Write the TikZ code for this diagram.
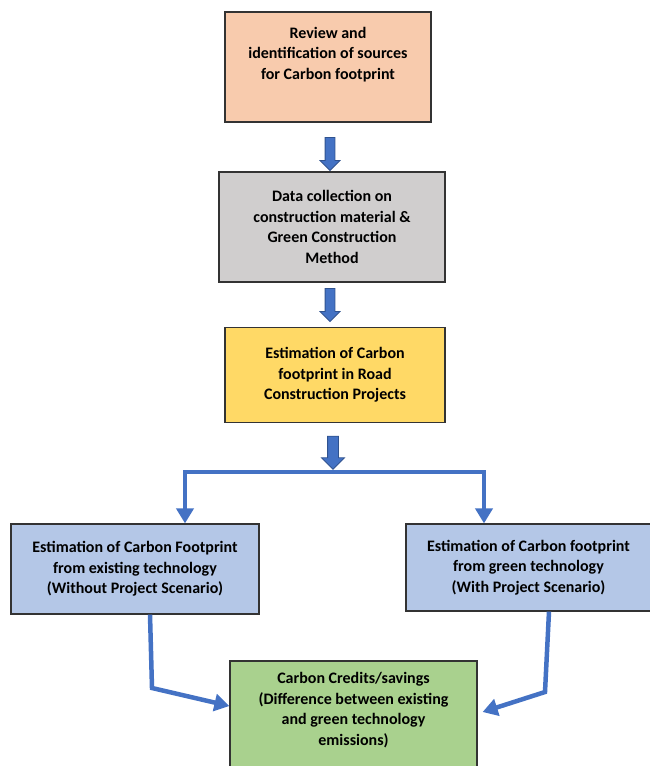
\documentclass[tikz,border=0pt]{standalone}
\usepackage{fontspec}
\setmainfont{Carlito}
\usetikzlibrary{arrows.meta,calc,positioning,shapes.arrows}
\definecolor{reviewpeach}{RGB}{248,203,173}
\definecolor{datagray}{RGB}{208,206,206}
\definecolor{estimyellow}{RGB}{255,217,102}
\definecolor{scenblue}{RGB}{180,199,231}
\definecolor{creditgreen}{RGB}{169,209,142}
\definecolor{flowblue}{RGB}{68,114,196}
\definecolor{flowedge}{RGB}{47,82,143}

\begin{document}
\begin{tikzpicture}[
    x=1pt, y=-1pt,
    stage/.style={draw=black!80, line width=1.2pt, align=center, inner sep=0pt, font=\fontsize{16}{20.5}\selectfont\bfseries},
    blockarrow/.style={single arrow, rotate=-90, fill=flowblue, draw=flowedge, line width=0.8pt, inner sep=4.5pt, single arrow head extend=5pt, minimum width=0pt, minimum height=33pt},
    branch/.style={draw=flowblue, line width=4.5pt, line join=miter},
    tip/.style={-{Triangle[width=17pt,length=15pt]}}
]
\useasboundingbox (0,0) rectangle (649,766);

% Stages down the middle
\node[stage, fill=reviewpeach, minimum width=206pt, minimum height=110pt, text depth=28pt] (review) at (328,67) {Review and\\identification of sources\\for Carbon footprint};
\node[stage, fill=datagray, minimum width=226pt, minimum height=110pt] (data) at (332,227) {Data collection on\\construction material \&\\Green Construction\\Method};
\node[stage, fill=estimyellow, minimum width=220pt, minimum height=95pt] (estim) at (335,375) {Estimation of Carbon\\footprint in Road\\Construction Projects};

% Block arrows between stages
\node[blockarrow] (a1) at (330,151.5) {};
\node[blockarrow] (a2) at (330,302.5) {};
\node[blockarrow, inner sep=5pt, single arrow head extend=6pt] (a3) at (333,450) {};

% Two scenarios
\node[stage, fill=scenblue, minimum width=248pt, minimum height=90pt] (existing) at (135,569) {Estimation of Carbon Footprint\\from existing technology\\(Without Project Scenario)};
\node[stage, fill=scenblue, minimum width=245pt, minimum height=87pt] (greentech) at (528.5,567.5) {Estimation of Carbon footprint\\from green technology\\(With Project Scenario)};

% Result
\node[stage, fill=creditgreen, minimum width=247pt, minimum height=112pt, text depth=16pt] (savings) at (353.5,717) {Carbon Credits/savings\\(Difference between existing\\and green technology\\emissions)};

% Split into the scenarios
\coordinate (splitL) at (185,472);
\coordinate (splitR) at (484,472);
\draw[branch, {Triangle[width=17pt,length=15pt]}-{Triangle[width=17pt,length=15pt]}] (splitL |- existing.north) -- (splitL) -- (splitR) -- (splitR |- greentech.north);

% Join into the result
\coordinate (bendL) at (152,688);
\coordinate (bendR) at (545,692);
\draw[branch, tip] ([xshift=15pt]existing.south) -- (bendL) -- ([yshift=11pt]savings.west);
\draw[branch, tip] ([xshift=20.5pt]greentech.south) -- (bendR) -- ([xshift=5pt,yshift=5pt]savings.east);

\end{tikzpicture}
\end{document}
